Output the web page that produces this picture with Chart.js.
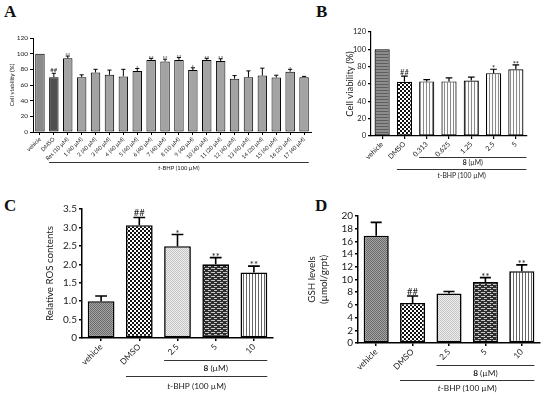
<!DOCTYPE html>
<html><head><meta charset="utf-8">
<script src="https://cdn.jsdelivr.net/npm/chart.js@4"></script>
<style>
html,body{margin:0;padding:0;background:#fff}
body{width:550px;height:398px;position:relative;overflow:hidden}
canvas{position:absolute;left:0;top:0}
.pl{position:absolute;font-family:"Liberation Serif","DejaVu Serif",serif;font-weight:bold;font-size:17px;color:#111}
</style></head><body>
<div class="pl" style="left:4px;top:2px">A</div>
<div class="pl" style="left:316px;top:2px">B</div>
<div class="pl" style="left:4px;top:196px">C</div>
<div class="pl" style="left:315px;top:196px">D</div>
<canvas id="cA" width="550" height="398"></canvas>
<canvas id="cB" width="550" height="398"></canvas>
<canvas id="cC" width="550" height="398"></canvas>
<canvas id="cD" width="550" height="398"></canvas>
<script>
// ---------- data ----------
const catsA = ['vehicle','DMSO','Res (10 µM)','1 (40 µM)','2 (40 µM)','3 (40 µM)','4 (40 µM)','5 (40 µM)','6 (40 µM)','7 (40 µM)','8 (10 µM)','9 (40 µM)','10 (40 µM)','11 (20 µM)','12 (40 µM)','13 (40 µM)','14 (20 µM)','15 (40 µM)','16 (20 µM)','17 (40 µM)'];
const valsA = [100,70,94,70,76,73,71,78,92,90,92,79,92,90.5,68,70,72,69.5,77,70];
const errA  = [0,5,3,3,4,6,9,3,2,3,3,3,2,3,4,8,9.5,3,3,1];
const sigA  = ['','##','**','','','','','*','**','**','**','*','**','**','','','','','*',''];
const ticksA = [0,20,40,60,80,100,120];

const catsB = ['vehicle','DMSO','0.313','0.625','1.25','2.5','5'];
const valsB = [100,62.5,63,63,64,72.5,77];
const errB  = [0,6.5,2,4,4,4.5,5];
const sigB  = ['','##','','','','*','**'];
const ticksB = [0,20,40,60,80,100,120];

const catsC = ['vehicle','DMSO','2.5','5','10'];
const valsC = [1.0,3.06,2.49,2.0,1.78];
const errC  = [0.14,0.21,0.32,0.18,0.17];
const sigC  = ['','##','*','**','**'];
const ticksC = [0,0.5,1.0,1.5,2.0,2.5,3.0,3.5];

const catsD = ['vehicle','DMSO','2.5','5','10'];
const valsD = [16.9,6.3,7.8,9.6,11.3];
const errD  = [2.1,1.1,0.3,0.7,1.0];
const sigD  = ['','##','','**','**'];
const ticksD = [0,2,4,6,8,10,12,14,16,18,20];

// ---------- patterns ----------
function tile(w,h,draw){const c=document.createElement('canvas');c.width=w;c.height=h;const g=c.getContext('2d');draw(g);return g.createPattern(c,'repeat');}
const P = {
  hline: tile(1,3,g=>{g.fillStyle='#8c8c8c';g.fillRect(0,0,1,3);g.fillStyle='#5e5e5e';g.fillRect(0,0,1,1);}),
  check: tile(4,4,g=>{g.fillStyle='#111';g.fillRect(0,0,4,4);g.fillStyle='#fff';g.fillRect(0,0,2,2);g.fillRect(2,2,2,2);}),
  vline: tile(3,1,g=>{g.fillStyle='#fbfbfb';g.fillRect(0,0,3,1);g.fillStyle='#8a8a8a';g.fillRect(0,0,1,1);}),
  vlineD: tile(3,1,g=>{g.fillStyle='#fff';g.fillRect(0,0,3,1);g.fillStyle='#666';g.fillRect(0,0,1,1);}),
  fine: tile(2,2,g=>{g.fillStyle='#a4a4a4';g.fillRect(0,0,2,2);g.fillStyle='#6a6a6a';g.fillRect(0,0,1,1);g.fillRect(1,1,1,1);}),
  light: tile(2,2,g=>{g.fillStyle='#eeeeee';g.fillRect(0,0,2,2);g.fillStyle='#c4c4c4';g.fillRect(0,0,1,1);g.fillRect(1,1,1,1);}),
  brick: tile(6,4,g=>{g.fillStyle='#2e2e2e';g.fillRect(0,0,6,4);g.fillStyle='#c8c8c8';g.fillRect(1,0,4,1);g.fillRect(4,2,2,1);g.fillRect(0,2,1,1);})
};
const fillA = catsA.map((c,i)=> i===0 ? '#8b8b8b' : i===1 ? '#4e4e4e' : '#a3a3a3');
const fillB = [P.hline, P.check, P.vline, P.vline, P.vline, P.vline, P.vline];
const fillC = [P.fine, P.check, P.light, P.brick, P.vlineD];
const fillD = [P.fine, P.check, P.light, P.brick, P.vlineD];

const FF = 'Lato, "Open Sans", sans-serif';

// ---------- plugin: error bars, significance marks, brackets ----------
const extras = {
  id: 'extras',
  afterDatasetsDraw(chart, args, o) {
    const s = o.spec; if (!s) return;
    const ctx = chart.ctx, y = chart.scales.y;
    const meta = chart.getDatasetMeta(0);
    ctx.save();
    ctx.strokeStyle = '#000'; ctx.lineWidth = s.errW;
    meta.data.forEach((bar, i) => {
      const e = s.errs[i];
      const topPx = y.getPixelForValue(s.vals[i] + e);
      if (e > 0) {
        const half = bar.width * 0.22;
        ctx.beginPath();
        ctx.moveTo(bar.x, bar.y); ctx.lineTo(bar.x, topPx);
        ctx.moveTo(bar.x - half, topPx); ctx.lineTo(bar.x + half, topPx);
        ctx.stroke();
      }
      if (s.sigs[i]) {
        ctx.fillStyle = '#222';
        ctx.font = s.sigFont + 'px ' + FF;
        ctx.textAlign = 'center'; ctx.textBaseline = 'alphabetic';
        const t = s.sigs[i];
        const yy = t.charAt(0) === '*' ? topPx + s.sigFont*0.22 : topPx - 1.5;
        ctx.fillText(t, bar.x, yy);
      }
    });
    // brackets
    const base = chart.chartArea.bottom;
    s.brackets.forEach(b => {
      const b0 = meta.data[b.from], b1 = meta.data[b.to];
      const x0 = b0.x - b0.width/2, x1 = b1.x + b1.width/2 + (b.ext || 0);
      ctx.strokeStyle = '#333'; ctx.lineWidth = 1;
      ctx.beginPath(); ctx.moveTo(x0, base + b.dy + 0.5); ctx.lineTo(x1, base + b.dy + 0.5); ctx.stroke();
      let total = 0;
      b.parts.forEach(p => { ctx.font = p.st + ' ' + s.brFont + 'px ' + FF; p.w = ctx.measureText(p.t).width; total += p.w; });
      let xx = (x0 + x1)/2 - total/2;
      ctx.fillStyle = '#222'; ctx.textAlign = 'left'; ctx.textBaseline = 'middle';
      b.parts.forEach(p => { ctx.font = p.st + ' ' + s.brFont + 'px ' + FF; ctx.fillText(p.t, xx, base + b.ty); xx += p.w; });
    });
    ctx.restore();
  }
};

function tbhp(){ return [{t:'t',st:'italic'},{t:'-BHP (100 µM)',st:'normal'}]; }
function eight(){ return [{t:'8',st:'bold'},{t:' (µM)',st:'normal'}]; }

function makeChart(id, cfg) {
  const a = cfg.area;
  const titleLH = cfg.titleSize * 1.2;
  const padLeft = cfg.titleX - titleLH/2;
  const yW = a.left - padLeft;
  const xH = 40;
  new Chart(document.getElementById(id), {
    type: 'bar',
    data: { labels: cfg.cats, datasets: [{ data: cfg.vals, backgroundColor: cfg.fills, borderColor: '#000', borderWidth: cfg.bw, borderSkipped: false, barPercentage: cfg.barPct, categoryPercentage: 1 }] },
    plugins: [extras],
    options: {
      responsive: false, animation: false, events: [],
      layout: { padding: { left: padLeft, top: a.top, right: 550 - a.right, bottom: 398 - a.bottom - xH } },
      plugins: { legend: { display: false }, tooltip: { enabled: false }, extras: { spec: cfg } },
      scales: {
        x: {
          offset: true,
          grid: { display: true, drawOnChartArea: false, drawTicks: true, tickLength: 3, offset: false, color: '#000', lineWidth: cfg.axW },
          border: { display: true, color: '#000', width: cfg.axW },
          ticks: { autoSkip: false, minRotation: 45, maxRotation: 45, padding: 1, color: '#222', font: { family: FF, size: cfg.xSize } },
          afterFit(sc) { sc.height = xH; }
        },
        y: {
          min: cfg.ticks[0], max: cfg.ticks[cfg.ticks.length-1],
          afterBuildTicks(sc) { sc.ticks = cfg.ticks.map(v => ({ value: v })); },
          grid: { display: true, drawOnChartArea: false, drawTicks: true, tickLength: 3, color: '#000', lineWidth: cfg.axW },
          border: { display: true, color: '#000', width: cfg.axW },
          ticks: { autoSkip: false, padding: 2, color: '#222', font: { family: FF, size: cfg.tickSize }, callback: cfg.fmt || (v => v) },
          title: { display: true, text: cfg.title, color: '#222', padding: 0, font: { family: FF, size: cfg.titleSize, lineHeight: 1.2 } },
          afterFit(sc) { sc.width = yW; }
        }
      }
    }
  });
}

makeChart('cA', {
  cats: catsA, vals: valsA, errs: errA, sigs: sigA, ticks: ticksA, fills: fillA,
  area: { left: 33, top: 38, right: 311, bottom: 132 },
  titleX: 12, titleSize: 6.2, tickSize: 6.5, xSize: 5.6, sigFont: 6, brFont: 5.8,
  barPct: 0.68, bw: 1, axW: 1, errW: 1,
  title: 'Cell viability (%)',
  brackets: [{ from: 1, to: 19, dy: 30, ty: 36, parts: tbhp() }]
});
makeChart('cB', {
  cats: catsB, vals: valsB, errs: errB, sigs: sigB, ticks: ticksB, fills: fillB,
  area: { left: 371, top: 32, right: 527, bottom: 136 },
  titleX: 350, titleSize: 9.5, tickSize: 7.5, xSize: 7, sigFont: 7.5, brFont: 6.8,
  barPct: 0.68, bw: 1.2, axW: 1.2, errW: 1.2,
  title: 'Cell viability (%)',
  brackets: [{ from: 2, to: 6, dy: 21, ty: 27, ext: 3, parts: eight() },
             { from: 1, to: 6, dy: 33, ty: 40, ext: 3, parts: tbhp() }]
});
makeChart('cC', {
  cats: catsC, vals: valsC, errs: errC, sigs: sigC, ticks: ticksC, fills: fillC,
  area: { left: 82, top: 209, right: 273, bottom: 338 },
  titleX: 50, titleSize: 9.7, tickSize: 10, xSize: 8.3, sigFont: 9.5, brFont: 8.3,
  barPct: 0.7, bw: 1.6, axW: 1.5, errW: 1.6,
  title: 'Relative ROS contents',
  fmt: v => v === 0 ? '0' : v.toFixed(1),
  brackets: [{ from: 2, to: 4, dy: 22, ty: 30, parts: eight() },
             { from: 1, to: 4, dy: 38, ty: 48, parts: tbhp() }]
});
makeChart('cD', {
  cats: catsD, vals: valsD, errs: errD, sigs: sigD, ticks: ticksD, fills: fillD,
  area: { left: 358, top: 216, right: 540, bottom: 343 },
  titleX: 312, titleSize: 9.8, tickSize: 10, xSize: 8.3, sigFont: 9.5, brFont: 8.3,
  barPct: 0.69, bw: 1.6, axW: 1.5, errW: 1.6,
  title: ['GSH levels','(µmol/grpt)'],
  brackets: [{ from: 2, to: 4, dy: 22, ty: 30, parts: eight() },
             { from: 1, to: 4, dy: 37, ty: 45, parts: tbhp() }]
});
</script>
</body></html>
